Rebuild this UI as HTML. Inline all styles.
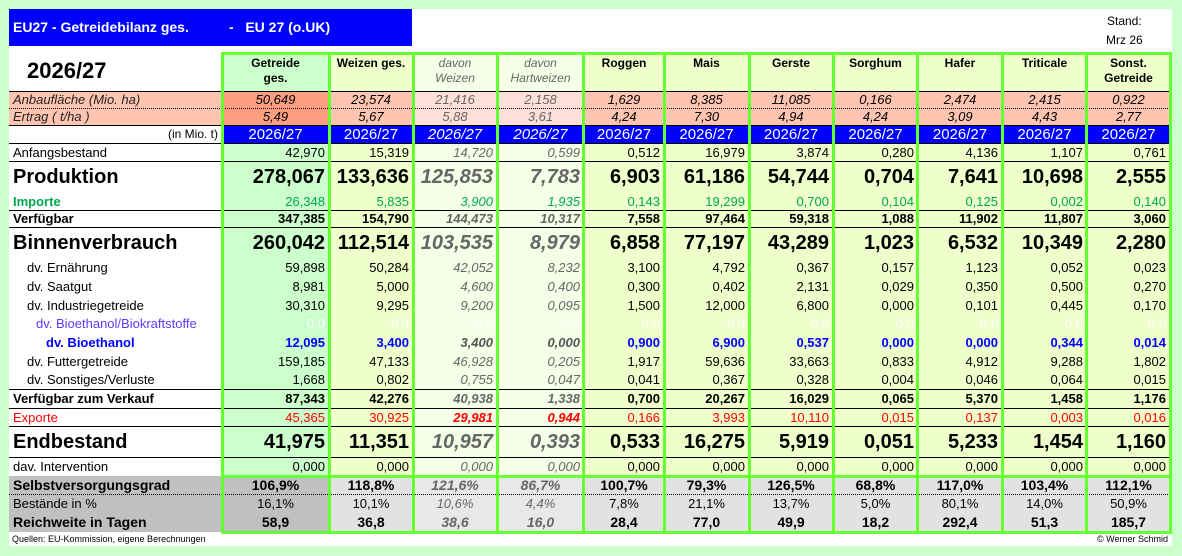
<!DOCTYPE html>
<html><head><meta charset="utf-8"><style>
*{margin:0;padding:0;box-sizing:border-box}
body{width:1182px;height:556px;background:#ccffcc;position:relative;overflow:hidden;font-family:"Liberation Sans",Arial,sans-serif}
#panel{position:absolute;left:9px;top:9px;width:1163px;height:537px;background:#fff}
.abs{position:absolute}
#title{left:9px;top:9px;width:403px;height:37px;background:#0000ff;color:#fff;font-weight:bold;font-size:14px;line-height:37px}
table{position:absolute;left:9px;top:53px;border-collapse:collapse;table-layout:fixed;width:1161px}
td{padding:0 4px;font-size:13px;line-height:1;white-space:nowrap;overflow:hidden;text-align:right;background:#eeffcc;color:#000}
td:first-child{text-align:left;background:#fff;padding-left:4px}
td:nth-child(2){background:#ccffcc}
td:nth-child(4),td:nth-child(5){background:#f5ffe8;color:#666;font-style:italic}
tr.hd td{text-align:center;vertical-align:top;font-weight:bold;font-size:12px;line-height:15px;padding-top:3px}
tr.hd td:nth-child(4),tr.hd td:nth-child(5){font-weight:normal}
tr.an td{text-align:center;font-style:italic;background:#ffc5b0;font-size:13px}
tr.an td:first-child{text-align:left;color:#222}
tr.an td:nth-child(2){background:#fb9f80}
tr.an td:nth-child(4),tr.an td:nth-child(5){background:#ffe0d8;color:#666}
tr.bl td{background:#0000ff;color:#fff;text-align:center;font-size:15px}
tr.bl td:first-child{background:#fff;color:#000;text-align:right;font-size:12px}
tr.big td{font-size:20px;font-weight:bold}
tr.big td:first-child{font-size:20px}
tr.b td{font-weight:bold}
tr.imp td{color:#00a84f}
tr.imp td:first-child{font-weight:bold}
tr.exp td{color:#ff0000}
tr.exp td:nth-child(4),tr.exp td:nth-child(5){font-weight:bold;color:#ff0000}
tr.bio1 td{color:#fff}
tr.bio1 td:first-child{color:#5a3cff;padding-left:27px}
tr.bio2 td{color:#0000ff;font-weight:bold}
tr.bio2 td:nth-child(4),tr.bio2 td:nth-child(5){color:#555}
tr.bio2 td:first-child{padding-left:37px}
tr.dv td:first-child{padding-left:18px}
tr.g td{text-align:center;background:#e2e2e2}
tr.g td:first-child{text-align:left;background:#c0c0c0}
tr.g td:nth-child(2){background:#c0c0c0}
tr.g td:nth-child(4),tr.g td:nth-child(5){background:#e8e8e8}
tr.g.b td{font-size:14px}
.hl{position:absolute;left:9px;width:1161px;height:1px;background:#000}
.dl{position:absolute;left:9px;width:1161px;height:0;border-top:1px dotted #000}
.vl{position:absolute;width:3px;background:#66ff33;top:53px;height:480px}
.gl{position:absolute;left:221px;width:951px;height:3px;background:#66ff33}
</style></head><body>
<div id="panel"></div>
<div id="title" class="abs"><span style="position:absolute;left:4px">EU27 - Getreidebilanz ges.</span><span style="position:absolute;left:220px">-&nbsp;&nbsp;&nbsp;EU 27 (o.UK)</span></div>
<div class="abs" style="left:1106px;top:12px;font-size:12px;line-height:19px;text-align:center">Stand:<br>Mrz 26</div>
<table>
<colgroup><col style="width:213px"><col style="width:107px"><col style="width:84px"><col style="width:84px"><col style="width:87px"><col style="width:80px"><col style="width:85px"><col style="width:84px"><col style="width:85px"><col style="width:84px"><col style="width:85px"><col style="width:83px"></colgroup>
<tr class="hd" style="height:38px"><td style="font-size:22px;text-align:left;padding-left:18px;padding-top:10px;background:#fff">2026/27</td><td>Getreide<br>ges.</td><td>Weizen ges.</td><td>davon<br>Weizen</td><td>davon<br>Hartweizen</td><td>Roggen</td><td>Mais</td><td>Gerste</td><td>Sorghum</td><td>Hafer</td><td>Triticale</td><td>Sonst.<br>Getreide</td></tr>
<tr class="an" style="height:17px"><td>Anbaufläche (Mio. ha)</td><td>50,649</td><td>23,574</td><td>21,416</td><td>2,158</td><td>1,629</td><td>8,385</td><td>11,085</td><td>0,166</td><td>2,474</td><td>2,415</td><td>0,922</td></tr>
<tr class="an" style="height:17px"><td>Ertrag ( t/ha )</td><td>5,49</td><td>5,67</td><td>5,88</td><td>3,61</td><td>4,24</td><td>7,30</td><td>4,94</td><td>4,24</td><td>3,09</td><td>4,43</td><td>2,77</td></tr>
<tr class="bl" style="height:18px"><td>(in Mio. t)</td><td>2026/27</td><td>2026/27</td><td>2026/27</td><td>2026/27</td><td>2026/27</td><td>2026/27</td><td>2026/27</td><td>2026/27</td><td>2026/27</td><td>2026/27</td><td>2026/27</td></tr>
<tr style="height:18px"><td>Anfangsbestand</td><td>42,970</td><td>15,319</td><td>14,720</td><td>0,599</td><td>0,512</td><td>16,979</td><td>3,874</td><td>0,280</td><td>4,136</td><td>1,107</td><td>0,761</td></tr>
<tr class="big" style="height:32px"><td>Produktion</td><td>278,067</td><td>133,636</td><td>125,853</td><td>7,783</td><td>6,903</td><td>61,186</td><td>54,744</td><td>0,704</td><td>7,641</td><td>10,698</td><td>2,555</td></tr>
<tr class="imp" style="height:17px"><td>Importe</td><td>26,348</td><td>5,835</td><td>3,900</td><td>1,935</td><td>0,143</td><td>19,299</td><td>0,700</td><td>0,104</td><td>0,125</td><td>0,002</td><td>0,140</td></tr>
<tr class="b" style="height:17px"><td>Verfügbar</td><td>347,385</td><td>154,790</td><td>144,473</td><td>10,317</td><td>7,558</td><td>97,464</td><td>59,318</td><td>1,088</td><td>11,902</td><td>11,807</td><td>3,060</td></tr>
<tr class="big" style="height:31px"><td>Binnenverbrauch</td><td>260,042</td><td>112,514</td><td>103,535</td><td>8,979</td><td>6,858</td><td>77,197</td><td>43,289</td><td>1,023</td><td>6,532</td><td>10,349</td><td>2,280</td></tr>
<tr class="dv" style="height:19px"><td>dv. Ernährung</td><td>59,898</td><td>50,284</td><td>42,052</td><td>8,232</td><td>3,100</td><td>4,792</td><td>0,367</td><td>0,157</td><td>1,123</td><td>0,052</td><td>0,023</td></tr>
<tr class="dv" style="height:19px"><td>dv. Saatgut</td><td>8,981</td><td>5,000</td><td>4,600</td><td>0,400</td><td>0,300</td><td>0,402</td><td>2,131</td><td>0,029</td><td>0,350</td><td>0,500</td><td>0,270</td></tr>
<tr class="dv" style="height:18px"><td>dv. Industriegetreide</td><td>30,310</td><td>9,295</td><td>9,200</td><td>0,095</td><td>1,500</td><td>12,000</td><td>6,800</td><td>0,000</td><td>0,101</td><td>0,445</td><td>0,170</td></tr>
<tr class="bio1" style="height:19px"><td>dv. Bioethanol/Biokraftstoffe</td><td>0,0</td><td>0,0</td><td>0,0</td><td>0,0</td><td>0,0</td><td>0,0</td><td>0,0</td><td>0,0</td><td>0,0</td><td>0,0</td><td>0,0</td></tr>
<tr class="bio2" style="height:19px"><td>dv. Bioethanol</td><td>12,095</td><td>3,400</td><td>3,400</td><td>0,000</td><td>0,900</td><td>6,900</td><td>0,537</td><td>0,000</td><td>0,000</td><td>0,344</td><td>0,014</td></tr>
<tr class="dv" style="height:18px"><td>dv. Futtergetreide</td><td>159,185</td><td>47,133</td><td>46,928</td><td>0,205</td><td>1,917</td><td>59,636</td><td>33,663</td><td>0,833</td><td>4,912</td><td>9,288</td><td>1,802</td></tr>
<tr class="dv" style="height:19px"><td>dv. Sonstiges/Verluste</td><td>1,668</td><td>0,802</td><td>0,755</td><td>0,047</td><td>0,041</td><td>0,367</td><td>0,328</td><td>0,004</td><td>0,046</td><td>0,064</td><td>0,015</td></tr>
<tr class="b" style="height:19px"><td>Verfügbar zum Verkauf</td><td>87,343</td><td>42,276</td><td>40,938</td><td>1,338</td><td>0,700</td><td>20,267</td><td>16,029</td><td>0,065</td><td>5,370</td><td>1,458</td><td>1,176</td></tr>
<tr class="exp" style="height:18px"><td>Exporte</td><td>45,365</td><td>30,925</td><td>29,981</td><td>0,944</td><td>0,166</td><td>3,993</td><td>10,110</td><td>0,015</td><td>0,137</td><td>0,003</td><td>0,016</td></tr>
<tr class="big" style="height:31px"><td>Endbestand</td><td>41,975</td><td>11,351</td><td>10,957</td><td>0,393</td><td>0,533</td><td>16,275</td><td>5,919</td><td>0,051</td><td>5,233</td><td>1,454</td><td>1,160</td></tr>
<tr style="height:19px"><td>dav. Intervention</td><td>0,000</td><td>0,000</td><td>0,000</td><td>0,000</td><td>0,000</td><td>0,000</td><td>0,000</td><td>0,000</td><td>0,000</td><td>0,000</td><td>0,000</td></tr>
<tr class="g b" style="height:18px"><td>Selbstversorgungsgrad</td><td>106,9%</td><td>118,8%</td><td>121,6%</td><td>86,7%</td><td>100,7%</td><td>79,3%</td><td>126,5%</td><td>68,8%</td><td>117,0%</td><td>103,4%</td><td>112,1%</td></tr>
<tr class="g" style="height:18px"><td>Bestände in %</td><td>16,1%</td><td>10,1%</td><td>10,6%</td><td>4,4%</td><td>7,8%</td><td>21,1%</td><td>13,7%</td><td>5,0%</td><td>80,1%</td><td>14,0%</td><td>50,9%</td></tr>
<tr class="g b" style="height:20px"><td>Reichweite in Tagen</td><td>58,9</td><td>36,8</td><td>38,6</td><td>16,0</td><td>28,4</td><td>77,0</td><td>49,9</td><td>18,2</td><td>292,4</td><td>51,3</td><td>185,7</td></tr>
</table>
<div class="hl" style="top:91px"></div>
<div class="dl" style="top:108px"></div>
<div class="hl" style="top:125px"></div>
<div class="hl" style="top:143px"></div>
<div class="hl" style="top:161px"></div>
<div class="hl" style="top:210px"></div>
<div class="hl" style="top:227px"></div>
<div class="hl" style="top:389px"></div>
<div class="hl" style="top:408px"></div>
<div class="hl" style="top:426px"></div>
<div class="hl" style="top:457px"></div>
<div class="dl" style="top:494px"></div>
<div class="gl" style="top:52px"></div>
<div class="gl" style="top:475px"></div>
<div class="gl" style="top:531px"></div>
<div class="vl" style="left:221px"></div>
<div class="vl" style="left:328px"></div>
<div class="vl" style="left:412px"></div>
<div class="vl" style="left:496px"></div>
<div class="vl" style="left:582px"></div>
<div class="vl" style="left:663px"></div>
<div class="vl" style="left:748px"></div>
<div class="vl" style="left:832px"></div>
<div class="vl" style="left:916px"></div>
<div class="vl" style="left:1001px"></div>
<div class="vl" style="left:1085px"></div>
<div class="vl" style="left:1169px"></div>
<div class="abs" style="left:12px;top:534px;font-size:9px">Quellen: EU-Kommission, eigene Berechnungen</div>
<div class="abs" style="right:14px;top:534px;font-size:9px">© Werner Schmid</div>
</body></html>
